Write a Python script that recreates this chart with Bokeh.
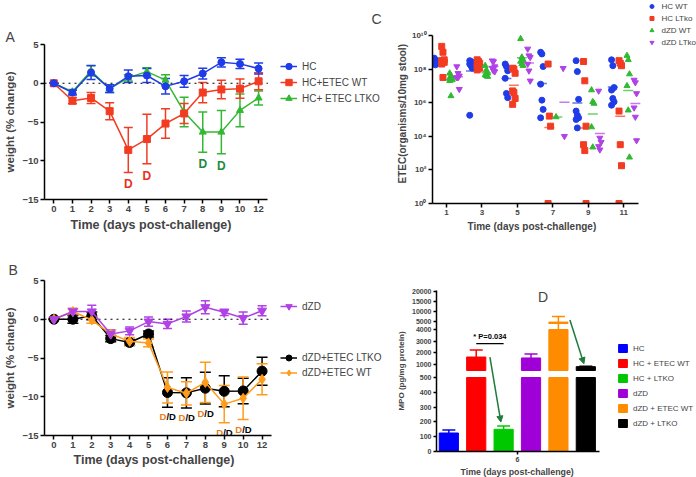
import numpy as np
from bokeh.plotting import figure
from bokeh.models import (ColumnDataSource, Whisker, TeeHead, Legend, LegendItem, Plot,
                          Range1d, FixedTicker, Label, Arrow, NormalHead,
                          CustomJSTickFormatter, Title)
from bokeh.layouts import row, column
from bokeh.core.properties import value
from bokeh.embed import file_html
from bokeh.resources import INLINE

FONT = "Liberation Sans"

# ---------------- Panel A : weight change, HC groups ----------------
days = ["0", "1", "2", "3", "4", "5", "6", "7", "8", "9", "10", "12"]
hc_mean = [0, -1.2, 1.4, -0.7, 0.9, 1.0, -0.4, 0.25, 1.25, 2.7, 2.5, 1.9]
hc_sem = [0, 0.3, 0.9, 0.5, 0.8, 0.9, 1.0, 0.75, 0.7, 0.6, 0.6, 0.7]
hcwt_mean = [0, -2.25, -1.9, -3.6, -8.6, -7.2, -5.2, -3.9, -1.2, -0.8, -0.7, 0.25]
hcwt_sem = [0, 0.4, 0.7, 1.1, 2.9, 3.2, 1.9, 1.3, 1.3, 1.2, 1.25, 1.1]
hcko_mean = [0, -1.1, 1.6, -0.7, 0.7, 1.5, 0.4, -3.7, -6.3, -6.3, -3.5, -1.9]
hcko_sem = [0, 0.3, 0.65, 0.5, 0.4, 0.5, 0.7, 1.9, 2.6, 2.8, 2.1, 0.9]
a_deaths_wt = ["4", "5"]
a_deaths_ko = ["8", "9"]

# ---------------- Panel B : weight change, dZD groups ----------------
dzd_mean = [0, 1.0, 1.0, -1.9, -1.5, -0.3, -0.6, 0.35, 1.55, 0.9, 0.15, 1.1]
dzd_sem = [0, 0.4, 0.8, 0.5, 0.5, 0.6, 0.6, 0.7, 0.85, 0.4, 0.8, 0.65]
dko_mean = [0, 0.0, 0.45, -2.5, -3.0, -1.9, -9.45, -9.5, -8.9, -9.3, -9.25, -6.7]
dko_sem = [0, 0.5, 0.5, 0.4, 0.4, 0.4, 1.9, 1.95, 2.05, 2.0, 1.65, 1.8]
dwt_mean = [0, 1.0, -0.1, -1.9, -2.85, -3.05, -8.8, -9.55, -8.15, -10.95, -10.2, -7.75]
dwt_sem = [0, 0.4, 0.4, 0.5, 0.5, 0.5, 2.0, 1.5, 2.6, 2.4, 2.75, 2.0]
b_deaths = ["6", "7", "8", "9", "10"]

# ---------------- Panel C : ETEC shedding (log10 organisms / 10 mg stool) ----------------
c_days = [1, 3, 5, 7, 9, 11]
c_hc_wt = {1: [8.65, 8.55, 8.5, 8.45, 8.4, 8.35, 8.3, 8.25],
           3: [8.5, 8.45, 8.4, 8.3, 8.2, 8.05, 5.25],
           5: [8.3, 8.15, 7.9, 7.45, 6.55, 6.3],
           7: [9.0, 8.9, 8.15, 7.1, 6.15, 5.6, 5.1],
           9: [8.5, 7.85, 6.2, 5.5, 5.25, 5.1, 5.0, 4.5],
           11: [8.55, 8.2, 6.9, 6.75, 6.25, 6.05, 5.85]}
c_hc_ltko = {1: [9.35, 9.0, 8.55, 8.5, 8.45, 8.4, 8.3, 7.5],
             3: [8.55, 8.45, 8.35, 8.25, 8.15, 8.05, 7.95],
             5: [8.05, 8.0, 7.75, 6.7, 6.6, 6.25, 5.9],
             7: [8.3, 5.2, 4.6, 0.0],
             9: [8.45, 7.3, 4.6, 3.5, 3.15, 0.0],
             11: [8.5, 8.35, 8.2, 5.5, 3.5, 2.25, 0.0]}
c_dzd_wt = {1: [7.75, 7.6, 7.5, 7.45, 7.4, 7.35, 7.3, 6.4],
            3: [8.2, 7.95, 7.75, 7.65, 7.6, 7.55],
            5: [9.8, 8.7, 8.55, 8.45, 8.3, 8.2],
            7: [5.15],
            9: [6.75, 6.05, 5.95, 4.55, 3.35],
            11: [8.8, 8.55, 7.7, 7.0, 5.55, 2.75]}
c_dzd_ltko = {1: [8.15, 7.75, 7.6, 7.5, 7.5, 6.8],
              3: [8.5, 8.45, 8.15, 8.05, 7.9, 7.85],
              5: [9.2, 8.8, 8.7, 8.3, 7.9, 7.3],
              7: [8.05, 4.0],
              9: [6.7, 3.9, 3.65, 3.4, 3.2],
              11: [7.35, 7.2, 6.55, 5.7, 5.15, 3.75]}
c_ticks = [1e0, 1e2, 1e4, 1e6, 1e8, 1e10]

# ---------------- Panel D : MPO at day 6 ----------------
mpo_groups = ["HC", "HC + ETEC WT", "HC + LTKO", "dZD", "dZD + ETEC WT", "dZD + LTKO"]
mpo_mean = [125, 1650, 150, 1570, 4700, 830]
mpo_sem = [20, 600, 22, 330, 2700, 40]
mpo_day = "6"
mpo_ticks = [0, 100, 200, 300, 400, 500, 1000, 2000, 3000, 4000, 5000, 10000, 15000, 20000]
pval_text = "* P=0.034"
pval_pair = (1, 2)
pval_level = 2800

XTITLE = "Time (days post-challenge)"

# ---------------- styles ----------------
BLUE, RED, GREEN = "#1f3ce8", "#f23c22", "#33b833"
PURPLE, BLACK, ORANGE = "#b042e6", "#000000", "#ff9c1c"
D_COLORS = ["#0000ff", "#ff0000", "#00c800", "#a000d8", "#ff8c00", "#000000"]
ARROW_GREEN = "#1e7b3c"
FIGKW = dict(output_backend="svg", toolbar_location=None)
if "frame_align" in Plot.properties():
    FIGKW["frame_align"] = False


def style_axes(p, tick_size, label_size, ylabel, tick_out=4):
    p.xgrid.grid_line_color = None
    p.ygrid.grid_line_color = None
    p.outline_line_color = None
    if ylabel:
        p.yaxis.axis_label = ylabel
    for ax in [*p.xaxis, *p.yaxis]:
        ax.axis_line_width = 1.5
        ax.major_tick_line_width = 1.5
        ax.major_tick_out = tick_out
        ax.major_tick_in = 0
        ax.minor_tick_out = 0
        ax.minor_tick_in = 0
        ax.major_label_text_font = FONT
        ax.major_label_text_font_style = "bold"
        ax.major_label_text_font_size = tick_size
        ax.major_label_standoff = 2
        ax.axis_label_text_font = FONT
        ax.axis_label_text_font_style = "bold"
        ax.axis_label_text_font_size = label_size
        ax.axis_label_standoff = 3


def add_title(p, text, side, offset, size, bold=False, standoff=2, align="left"):
    t = Title(text=text, align=align, offset=offset, standoff=standoff, text_font=FONT,
              text_font_size=size, text_font_style="bold" if bold else "normal")
    p.add_layout(t, side)
    return t


def add_series(p, xs, mean, sem, color, marker, size, cap):
    src = ColumnDataSource(dict(x=xs, y=mean,
                                lo=[m - s for m, s in zip(mean, sem)],
                                hi=[m + s for m, s in zip(mean, sem)]))
    p.add_layout(Whisker(base="x", upper="hi", lower="lo", source=src,
                         line_color=color, line_width=1.5,
                         upper_head=TeeHead(size=cap, line_color=color, line_width=1.5),
                         lower_head=TeeHead(size=cap, line_color=color, line_width=1.5)))
    l = p.line("x", "y", source=src, line_color=color, line_width=1.5)
    s = p.scatter("x", "y", source=src, marker=marker, size=size,
                  fill_color=color, line_color=color)
    return l, s


def make_legend(items, loc, font_size, label_h, glyph_w, glyph_h):
    return Legend(items=items, location=loc, padding=0, margin=0, spacing=0,
                  label_height=label_h, glyph_width=glyph_w, glyph_height=glyph_h,
                  label_standoff=5, border_line_color=None, background_fill_alpha=0,
                  label_text_font=FONT, label_text_font_size=font_size)


def weight_figure(height, top, bottom, x_end):
    xpos = list(range(len(days)))
    p = figure(width=394, height=height, x_range=Range1d(-0.5, x_end), y_range=Range1d(-15, 5),
               min_border_left=44, min_border_right=0, min_border_top=top, min_border_bottom=bottom,
               **FIGKW)
    style_axes(p, "9.5px", "11.5px", "weight (% change)")
    p.xaxis.bounds = (-0.5, len(days) - 0.5)
    p.xaxis.ticker = FixedTicker(ticks=xpos)
    p.xaxis.formatter = CustomJSTickFormatter(args=dict(labels=days),
                                              code="return labels[Math.round(tick)];")
    p.yaxis.ticker = FixedTicker(ticks=[-15, -10, -5, 0, 5])
    p.segment(x0=[-0.5], x1=[len(days) - 0.5], y0=[0], y1=[0], line_dash="dotted",
              line_color="black", line_width=1.2)
    return p, xpos


# ======================= Figure A =======================
pA, xpos = weight_figure(240, 44, 41, 18.3)
add_title(pA, "A", "above", -39, "14px", standoff=0)
add_title(pA, "C", "above", 327, "14px", standoff=0)
add_title(pA, XTITLE, "below", 26, "12.5px", bold=True, standoff=2)
lko = add_series(pA, xpos, hcko_mean, hcko_sem, GREEN, "triangle", 7, 9)
lwt = add_series(pA, xpos, hcwt_mean, hcwt_sem, RED, "square", 7, 9)
lhc = add_series(pA, xpos, hc_mean, hc_sem, BLUE, "circle", 7, 9)

for dd, mean, sem, col in [(a_deaths_wt, hcwt_mean, hcwt_sem, "#e8321e"),
                           (a_deaths_ko, hcko_mean, hcko_sem, "#1e8a3c")]:
    idx = [days.index(d) for d in dd]
    pA.text(x=idx, y=[mean[i] - sem[i] for i in idx], text=["D"] * len(dd), text_color=col,
            text_font=value(FONT), text_font_style="bold", text_font_size="12px",
            text_align="center", text_baseline="top", y_offset=5)

pA.add_layout(make_legend([LegendItem(label="HC", renderers=list(lhc)),
                           LegendItem(label="HC+ETEC WT", renderers=list(lwt)),
                           LegendItem(label="HC+ ETEC LTKO", renderers=list(lko))],
                          (236, 93), "10px", 16, 17, 16))

# ======================= Figure B =======================
pB, xpos = weight_figure(237, 40, 42, 18.0)
add_title(pB, "B", "above", -36, "14px", standoff=5)
add_title(pB, XTITLE, "below", 29, "12.5px", bold=True, standoff=1)
bko = add_series(pB, xpos, dko_mean, dko_sem, BLACK, "circle", 10, 11)
bwt = add_series(pB, xpos, dwt_mean, dwt_sem, ORANGE, "diamond", 10, 11)
bzd = add_series(pB, xpos, dzd_mean, dzd_sem, PURPLE, "inverted_triangle", 9, 9)

idx = [days.index(d) for d in b_deaths]
ys = [min(dko_mean[i] - dko_sem[i], dwt_mean[i] - dwt_sem[i]) for i in idx]
pB.text(x=idx, y=ys, text=["D"] * len(idx), text_color="#e8801a", text_font=value(FONT),
        text_font_style="bold", text_font_size="9.5px", text_align="right",
        text_baseline="top", y_offset=4, x_offset=-1)
pB.text(x=idx, y=ys, text=["/D"] * len(idx), text_color="black", text_font=value(FONT),
        text_font_style="bold", text_font_size="9.5px", text_align="left",
        text_baseline="top", y_offset=4, x_offset=-1)

pB.add_layout(make_legend([LegendItem(label="dZD", renderers=list(bzd))],
                          (236, 121), "10px", 16, 17, 16))
pB.add_layout(make_legend([LegendItem(label="dZD+ETEC LTKO", renderers=list(bko)),
                           LegendItem(label="dZD+ETEC WT", renderers=list(bwt))],
                          (236, 55), "10px", 15, 17, 15))

# ======================= Figure C =======================
pC = figure(width=302, height=240, x_range=Range1d(0.21, 15.1), y_range=Range1d(1, 10 ** 12.08),
            y_axis_type="log", min_border_left=38, min_border_right=0, min_border_top=0,
            min_border_bottom=37, **FIGKW)
style_axes(pC, "8px", "10px", None, tick_out=4)
add_title(pC, "ETEC(organisms/10mg stool)", "left", 20, "10px", bold=True, standoff=1)
add_title(pC, XTITLE, "below", 35, "10px", bold=True, standoff=2)
pC.xaxis.bounds = (0.21, 11.85)
pC.yaxis.bounds = (c_ticks[0], c_ticks[-1])
pC.xaxis.ticker = FixedTicker(ticks=c_days)
pC.yaxis.ticker = FixedTicker(ticks=c_ticks)
pC.yaxis.formatter = CustomJSTickFormatter(code="""
const s = "\u2070\u00b9\u00b2\u00b3\u2074\u2075\u2076\u2077\u2078\u2079";
const e = Math.round(Math.log10(tick));
return "10" + String(e).split("").map(c => s[parseInt(c)]).join("");
""")

c_specs = [("HC WT", c_hc_wt, "circle", BLUE, -0.62),
           ("HC LTko", c_hc_ltko, "square", RED, -0.2),
           ("dZD WT", c_dzd_wt, "triangle", GREEN, 0.25),
           ("dZD LTko", c_dzd_ltko, "inverted_triangle", PURPLE, 0.65)]
c_items = []
for name, data, marker, col, off in c_specs:
    xs, ys, mx, my = [], [], [], []
    for d in c_days:
        vals = data[d]
        for k, v in enumerate(vals):
            xs.append(d + off + ((k % 3) - 1) * 0.07)
            ys.append(10 ** v)
        mx.append(d + off)
        my.append(10 ** float(np.mean(vals)))
    pC.scatter(mx, my, marker="dash", size=10, line_color=col, line_width=1.5, line_alpha=0.7)
    r = pC.scatter(xs, ys, marker=marker, size=6, fill_color=col, line_color=col)
    c_items.append(LegendItem(label=name, renderers=[r]))
pC.add_layout(make_legend(c_items, "top_right", "8px", 12, 10, 12))

# ======================= Figure D =======================
BREAKS = [(0, 500, 0.0, 74.0), (500, 4000, 81.0, 122.0), (4000, 20000, 128.0, 160.5)]


def seg_y(v):
    for lo, hi, a, b in BREAKS:
        if v <= hi:
            return a + (max(v, lo) - lo) / (hi - lo) * (b - a)
    lo, hi, a, b = BREAKS[-1]
    return a + (v - lo) / (hi - lo) * (b - a)


pD = figure(width=302, height=237, x_range=Range1d(-0.45, 9.04), y_range=Range1d(0, 161),
            min_border_left=40, min_border_right=0, min_border_top=50, min_border_bottom=26, **FIGKW)
style_axes(pD, "7px", "8px", "MPO (pg/mg protein)", tick_out=3)
add_title(pD, XTITLE, "below", 24, "8.8px", bold=True, standoff=1)
pD.xaxis.bounds = (-0.45, len(mpo_groups) - 0.5)
tick_pos = [seg_y(v) for v in mpo_ticks]
pD.yaxis.ticker = FixedTicker(ticks=tick_pos)
pD.yaxis.formatter = CustomJSTickFormatter(args=dict(pos=tick_pos, lab=[str(v) for v in mpo_ticks]), code="""
let k = 0;
for (let i = 0; i < pos.length; i++) { if (Math.abs(pos[i] - tick) < Math.abs(pos[k] - tick)) k = i; }
return lab[k];
""")
xc = (len(mpo_groups) - 1) / 2
pD.xaxis.ticker = FixedTicker(ticks=[xc])
pD.xaxis.formatter = CustomJSTickFormatter(args=dict(day=mpo_day), code="return day;")

first = dict(x=[], bottom=[], top=[], color=[])
rest = dict(x=[], bottom=[], top=[], color=[])
for i, (m, c) in enumerate(zip(mpo_mean, D_COLORS)):
    for j, (lo, hi, a, b) in enumerate(BREAKS):
        if m > lo:
            tgt = first if j == 0 else rest
            tgt["x"].append(i)
            tgt["bottom"].append(a)
            tgt["top"].append(a + (min(m, hi) - lo) / (hi - lo) * (b - a))
            tgt["color"].append(c)

for i, (m, s, c) in enumerate(zip(mpo_mean, mpo_sem, D_COLORS)):
    wsrc = ColumnDataSource(dict(x=[i], hi=[seg_y(m + s)], lo=[seg_y(m - s)]))
    pD.add_layout(Whisker(base="x", upper="hi", lower="lo", source=wsrc, line_color=c, line_width=1.5,
                          upper_head=TeeHead(size=13, line_color=c, line_width=1.5),
                          lower_head=TeeHead(size=13, line_color=c, line_width=1.5)))

rb = pD.vbar(x="x", bottom="bottom", top="top", width=0.7, fill_color="color", line_color="color",
             source=ColumnDataSource(first))
pD.vbar(x="x", bottom="bottom", top="top", width=0.7, fill_color="color", line_color="color",
        source=ColumnDataSource(rest))

py = seg_y(pval_level)
pD.segment(x0=[pval_pair[0]], y0=[py], x1=[pval_pair[1]], y1=[py], line_color="black", line_width=1.2)
pD.text(x=[sum(pval_pair) / 2], y=[py], text=[pval_text], text_font=value(FONT), text_font_style="bold",
        text_font_size="7.5px", text_align="center", text_baseline="bottom", y_offset=-3)

pD.add_layout(Arrow(end=NormalHead(size=6, fill_color=ARROW_GREEN, line_color=ARROW_GREEN),
                    x_start=1.5, y_start=seg_y(mpo_mean[1]),
                    x_end=1.9, y_end=seg_y(mpo_mean[2] + mpo_sem[2]) + 4,
                    line_color=ARROW_GREEN, line_width=1.5))
pD.add_layout(Arrow(end=NormalHead(size=6, fill_color=ARROW_GREEN, line_color=ARROW_GREEN),
                    x_start=4.42, y_start=seg_y(mpo_mean[4]) + 2,
                    x_end=4.93, y_end=seg_y(mpo_mean[5] + mpo_sem[5]) + 2.5,
                    line_color=ARROW_GREEN, line_width=1.5))

pD.add_layout(make_legend([LegendItem(label=g, renderers=[rb], index=i) for i, g in enumerate(mpo_groups)],
                          (181, 20.5), "8px", 15, 11, 10))
pD.add_layout(Label(x=3.44, y=155, text="D", text_font=FONT, text_font_size="14px",
                    text_align="center", text_baseline="middle"))

layout = column(row(pA, pC), row(pB, pD))
with open("out.html", "w", encoding="utf-8") as f:
    f.write(file_html(layout, INLINE))
